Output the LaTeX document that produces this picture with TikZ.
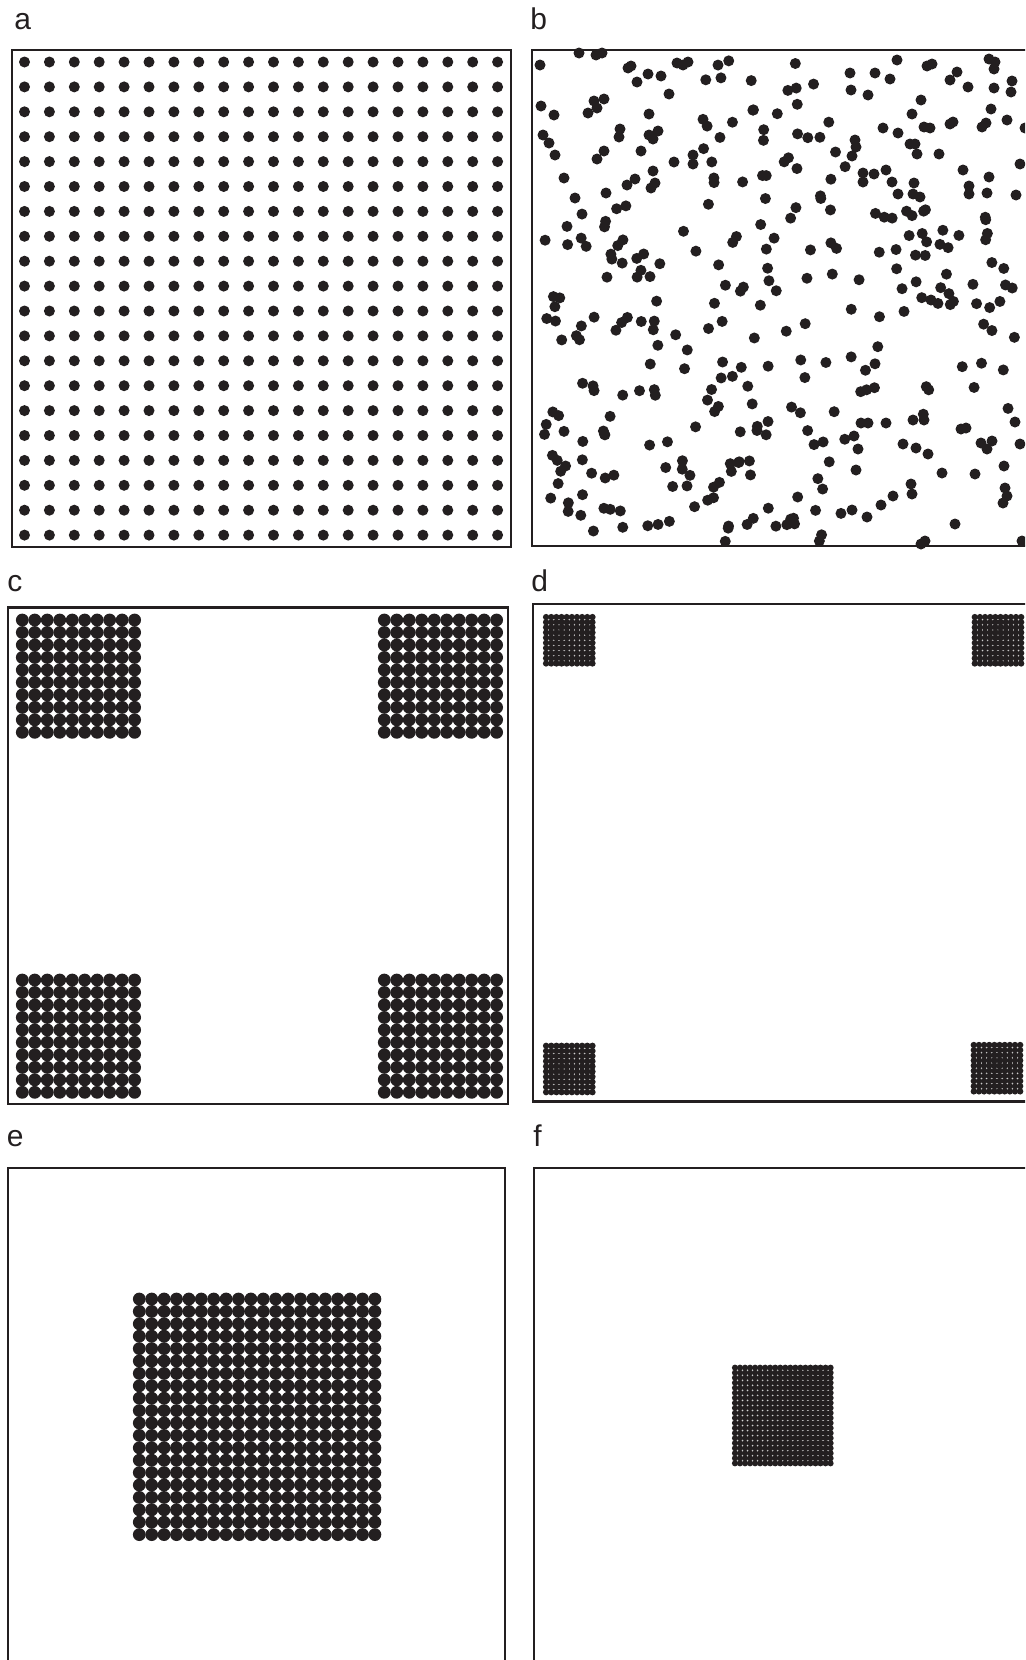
\documentclass[tikz,border=0pt]{standalone}
\usepackage{fontspec}
\setmainfont{Liberation Sans}
\definecolor{ink}{HTML}{231F20}
\begin{document}
\begin{tikzpicture}[x=0.5pt,y=-0.5pt,
  frame/.style={draw=ink,line width=1.15pt},
  dot/.style={fill=ink},
  lbl/.style={anchor=base west,inner sep=0pt,font=\fontsize{15}{18}\selectfont,text=ink}]
\useasboundingbox (0,0) rectangle (1025,1660);
\clip (0,0) rectangle (1025,1660);
\fill[white] (0,0) rectangle (1025,1660);
% labels
\node[lbl] (la) at (14,29.5) {a};
\node[lbl] (lb) at (530,29.5) {b};
\node[lbl] (lc) at (7,591.5) {c};
\node[lbl] (ld) at (531,591.5) {d};
\node[lbl] (le) at (6.5,1146.5) {e};
\node[lbl] (lf) at (533,1146.5) {f};
% frames
\draw[frame] (12,50) rectangle (511,547);
\draw[frame] (532,50) rectangle (1040,546);
\draw[frame] (8,607.5) rectangle (508,1104);
\draw[frame] (533,604) rectangle (1040,1101.5);
\draw[frame] (8,1168) rectangle (505,1700);
\draw[frame] (534,1168) rectangle (1040,1700);
% panel a: regular lattice
\foreach \i in {0,...,19}
  \foreach \j in {0,...,19}
    \fill[dot] ({24.5+24.9*\i},{62+24.9*\j}) circle[radius=2.75pt];
% panel c: four clusters
\foreach \cx/\cy in {22.3/620,384.3/620,22.3/980,384.3/980}
  \foreach \i in {0,...,9}
    \foreach \j in {0,...,9}
      \fill[dot] ({\cx+12.48*\i},{\cy+12.48*\j}) circle[radius=3.2pt];
% panel d: four small dense clusters
\foreach \cx/\cy in {546.1/617.1,974.8/617.1,546.1/1045.8,973.8/1045}
  \foreach \i in {0,...,9}
    \foreach \j in {0,...,9}
      \fill[dot] ({\cx+5.15*\i},{\cy+5.15*\j}) circle[radius=1.6pt];
% panel e: one big cluster
\foreach \i in {0,...,19}
  \foreach \j in {0,...,19}
    \fill[dot] ({139.3+12.4*\i},{1299+12.4*\j}) circle[radius=3.2pt];
% panel f: one small dense cluster
\foreach \i in {0,...,19}
  \foreach \j in {0,...,19}
    \fill[dot] ({735+5.03*\i},{1367.7+5.03*\j}) circle[radius=1.55pt];
% panel b: scattered dots
\foreach \px/\py in {540/65,579/53,596/55,602/53,628/68,631/66,637/82,648/74,661/76,669/94,
  677/63,683/65,688/62,541/106,554/115,594/101,604/99,588/113,597/108,649/114,
  620/129,619/137,649/135,658/131,653/139,641/151,543/135,549/143,555/155,604/151,
  597/159,674/162,693/155,693/164,564/178,653/171,655/183,651/188,627/185,635/179,
  575/198,606/193,
  897/60,875/73,890/79,927/66,932/64,957/72,950/80,968/87,989/59,995/62,
  994/69,994/88,1012/81,1011/92,850/73,851/90,868/95,921/100,912/114,991/109,
  1007/120,950/124,953/122,982/127,986/123,1025/128,883/128,898/133,924/127,930/128,
  855/140,856/147,852/156,910/144,915/144,917/154,939/154,1020/164,963/170,989/177,
  863/173,874/174,886/170,863/182,892/182,914/183,969/186,969/194,987/193,898/194,
  913/194,920/197,1016/195,
  861/423,868/423,886/423,913/420,924/420,854/436,858/449,903/444,916/448,928/454,
  961/429,966/428,981/443,992/441,987/449,1020/444,1015/422,856/470,942/473,975/474,
  1004/466,911/484,912/494,1005/488,1007/496,1003/503,881/505,893/496,852/510,867/517,
  955/524,925/541,921/544,1022/541}
  \fill[dot] (\px,\py) circle[radius=2.75pt];
\pgfmathsetseed{7}
\foreach \k in {1,...,122}{
  \pgfmathsetmacro\px{703+144*rnd}\pgfmathsetmacro\py{56+486*rnd}
  \fill[dot] (\px,\py) circle[radius=2.75pt];}
\foreach \k in {1,...,95}{
  \pgfmathsetmacro\px{537+163*rnd}\pgfmathsetmacro\py{203+338*rnd}
  \fill[dot] (\px,\py) circle[radius=2.75pt];}
\foreach \k in {1,...,63}{
  \pgfmathsetmacro\px{850+172*rnd}\pgfmathsetmacro\py{203+214*rnd}
  \fill[dot] (\px,\py) circle[radius=2.75pt];}
\end{tikzpicture}
\end{document}
